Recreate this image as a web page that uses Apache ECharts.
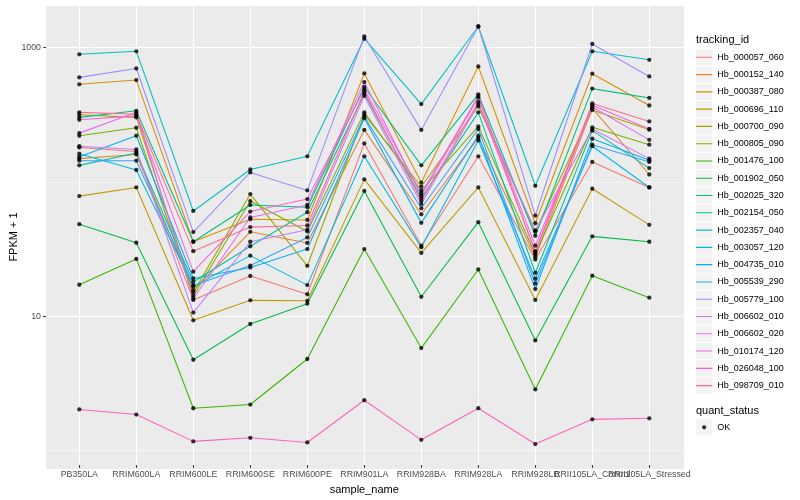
<!DOCTYPE html>
<html><head><meta charset="utf-8">
<script src="https://cdn.jsdelivr.net/npm/echarts@6/dist/echarts.min.js"></script>
<style>html,body{margin:0;padding:0;background:#fff}#c{width:800px;height:500px}</style>
</head><body><div id="c"></div>
<script>
const categories = ['PB350LA','RRIM600LA','RRIM600LE','RRIM600SE','RRIM600PE','RRIM901LA','RRIM928BA','RRIM928LA','RRIM928LB','RRII105LA_Control','RRII105LA_Stressed'];
const trackingIds = ['Hb_000057_060','Hb_000152_140','Hb_000387_080','Hb_000696_110','Hb_000700_090','Hb_000805_090','Hb_001476_100','Hb_001902_050','Hb_002025_320','Hb_002154_050','Hb_002357_040','Hb_003057_120','Hb_004735_010','Hb_005539_290','Hb_005779_100','Hb_006602_010','Hb_006602_020','Hb_010174_120','Hb_026048_100','Hb_098709_010'];

const Hb_000057_060 = [177,165,12.7,19.2,14.0,190,32.4,152,25.5,138,88.7];
const Hb_000152_140 = [146,157,15.0,41.2,34.0,240,55.8,209,26.6,348,111];
const Hb_000387_080 = [528,568,34.7,51.2,50.6,637,96.6,718,47.8,634,366];
const Hb_000696_110 = [76.4,88.7,8.92,12.6,12.5,102,28.6,88.7,12.7,86.8,46.5];
const Hb_000700_090 = [312,298,14.4,79.1,22.9,313,89.8,360,41.5,338,241];
const Hb_000805_090 = [217,249,13.6,70.1,41.5,325,83.8,255,27.8,251,186];
const Hb_001476_100 = [16.5,25.8,1.95,2.08,4.57,30.6,5.52,21.5,2.70,19.3,13.2];
const Hb_001902_050 = [47.0,34.1,4.51,8.37,11.9,83.5,13.4,48.7,6.30,38.1,34.7];
const Hb_002025_320 = [298,334,34.7,65.5,63.0,504,130,444,38.5,490,417];
const Hb_002154_050 = [130,161,17.3,32.1,57.8,448,73.5,325,20.3,237,124];
const Hb_002357_040 = [887,934,59.1,121,152,1161,375,1434,91.3,934,806];
const Hb_003057_120 = [159,120,16.0,27.3,16.4,152,31.5,200,18.3,181,88.7];
const Hb_004735_010 = [151,217,18.4,22.2,30.6,293,48.1,217,15.3,206,142];
const Hb_005539_290 = [141,141,16.3,23.0,37.4,302,61.9,244,16.8,186,138];
const Hb_005779_100 = [595,694,41.0,115,84.3,1208,240,1434,54.6,1060,605];
const Hb_006602_010 = [181,171,10.2,34.7,42.7,432,66.6,375,42.2,244,146];
const Hb_006602_020 = [227,325,13.0,52.8,65.5,549,76.9,420,32.4,357,202];
const Hb_010174_120 = [286,306,20.7,58.5,72.6,484,80.0,432,28.6,368,244];
const Hb_026048_100 = [1.91,1.75,1.10,1.17,1.08,2.24,1.13,1.95,1.05,1.61,1.64];
const Hb_098709_010 = [325,315,29.5,44.7,46.0,466,70.1,389,29.5,379,278];

const seriesValues = [Hb_000057_060,Hb_000152_140,Hb_000387_080,Hb_000696_110,Hb_000700_090,Hb_000805_090,Hb_001476_100,Hb_001902_050,Hb_002025_320,Hb_002154_050,Hb_002357_040,Hb_003057_120,Hb_004735_010,Hb_005539_290,Hb_005779_100,Hb_006602_010,Hb_006602_020,Hb_010174_120,Hb_026048_100,Hb_098709_010];
const quantStatus = ['OK'];

const palette = ['#F8766D','#EA8331','#D89000','#C09B00','#A3A500','#7CAE00','#39B600','#00BB4E','#00BF7D','#00C1A3','#00BFC4','#00BAE0','#00B0F6','#35A2FF','#9590FF','#C77CFF','#E76BF3','#FA62DB','#FF62BC','#FF6C91'];

const FONT = 'Liberation Sans, Arial, Helvetica, sans-serif';
const chart = echarts.init(document.getElementById('c'), null, {renderer: 'canvas'});

const lineSeries = trackingIds.map((name, i) => ({
  name: name, type: 'line', xAxisIndex: 1, yAxisIndex: 2,
  data: seriesValues[i], symbol: 'none', showSymbol: false,
  color: palette[i],
  lineStyle: {width: 1.07, color: palette[i]},
  itemStyle: {color: palette[i]},
  emphasis: {disabled: true}, z: 2, silent: true
}));

const pointData = [];
seriesValues.forEach(vals => vals.forEach((v, j) => pointData.push([j, v])));

const corner = 'M0,0L0.01,0L0,0.01Z M16.29,16.3L16.3,16.3L16.3,16.29Z ';
const lineIcon = 'path://' + corner + 'M0,7.6L16.3,7.6L16.3,8.7L0,8.7Z';
const dotIcon = 'path://' + corner + 'M6,8.15a2.15,2.15 0 1,0 4.3,0a2.15,2.15 0 1,0 -4.3,0Z';

const legendCommon = {orient: 'vertical', left: 696, padding: 0, itemWidth: 16.3, itemHeight: 16.3, itemGap: 0.98, selectedMode: false};

chart.setOption({
  animation: false,
  backgroundColor: '#ffffff',
  title: [
    {text: 'tracking_id', left: 696, top: 34, padding: 0, textStyle: {fontSize: 11, fontWeight: 'normal', color: '#000', fontFamily: FONT}},
    {text: 'quant_status', left: 696, top: 405.5, padding: 0, textStyle: {fontSize: 11, fontWeight: 'normal', color: '#000', fontFamily: FONT}}
  ],
  legend: [
    Object.assign({}, legendCommon, {top: 49.15, z: 4,
      data: trackingIds.map(n => ({name: n, icon: 'rect', itemStyle: {color: '#F2F2F2', borderWidth: 0}})),
      formatter: () => ' ', textStyle: {fontSize: 9, color: 'rgba(0,0,0,0)', fontFamily: FONT}}),
    Object.assign({}, legendCommon, {top: 49.15, z: 5,
      data: trackingIds.map(n => ({name: n, icon: lineIcon})),
      itemStyle: {borderWidth: 0},
      textStyle: {fontSize: 9, color: '#000', fontFamily: FONT}}),
    Object.assign({}, legendCommon, {top: 419.15, z: 4,
      data: quantStatus.map(n => ({name: n, icon: 'rect', itemStyle: {color: '#F2F2F2', borderWidth: 0}})),
      formatter: () => ' ', textStyle: {fontSize: 9, color: 'rgba(0,0,0,0)', fontFamily: FONT}}),
    Object.assign({}, legendCommon, {top: 419.15, z: 5,
      data: quantStatus.map(n => ({name: n, icon: dotIcon})),
      itemStyle: {borderWidth: 0},
      textStyle: {fontSize: 9, color: '#000', fontFamily: FONT}})
  ],
  grid: [
    {left: 45, top: 5, width: 639, height: 464, show: true, backgroundColor: '#EBEBEB', borderWidth: 0, containLabel: false},
    {left: 79.3, top: 5, width: 570, height: 464, show: false, containLabel: false}
  ],
  xAxis: [
    {type: 'value', gridIndex: 0, min: 0, max: 1, show: false},
    {type: 'category', gridIndex: 1, data: categories, boundaryGap: false,
     axisLine: {show: false},
     axisTick: {show: true, length: 2.75, lineStyle: {color: '#333333', width: 1.07}},
     axisLabel: {interval: 0, margin: 5, fontSize: 8.8, color: '#4D4D4D', fontFamily: FONT, hideOverlap: false},
     splitLine: {show: true, lineStyle: {color: '#FFFFFF', width: 1.07}},
     name: 'sample_name', nameLocation: 'middle', nameGap: 14.5,
     nameTextStyle: {fontSize: 11, color: '#000', fontFamily: FONT}}
  ],
  yAxis: [
    {type: 'log', logBase: 10, gridIndex: 0, min: 0.73, max: 2080,
     axisLine: {show: false}, axisTick: {show: false}, axisLabel: {show: false},
     splitLine: {show: true, lineStyle: {color: '#FFFFFF', width: 0.55}},
     name: 'FPKM + 1', nameLocation: 'middle', nameGap: 27, nameRotate: 90,
     nameTextStyle: {fontSize: 11, color: '#000', fontFamily: FONT}},
    {type: 'log', logBase: 100, gridIndex: 0, min: 0.073, max: 208, position: 'left',
     axisLine: {show: false},
     axisTick: {show: true, length: 2.75, lineStyle: {color: '#333333', width: 1.07}},
     axisLabel: {show: true, margin: 5, fontSize: 8.8, color: '#4D4D4D', fontFamily: FONT,
       showMinLabel: false, showMaxLabel: false,
       formatter: v => { const e = Math.log10(v * 10); return Math.abs(e - Math.round(e)) < 1e-6 ? String(Math.round(Math.pow(10, Math.round(e)))) : ''; }},
     splitLine: {show: true, lineStyle: {color: '#FFFFFF', width: 1.07}}},
    {type: 'log', logBase: 10, gridIndex: 1, min: 0.73, max: 2080, show: false,
     splitLine: {show: false}}
  ],
  series: lineSeries.concat([{
    name: 'OK', type: 'scatter', xAxisIndex: 1, yAxisIndex: 2,
    data: pointData, symbol: 'circle', symbolSize: 4.3,
    itemStyle: {color: '#000000'}, color: '#000000', z: 10, silent: true
  }])
});
</script></body></html>
